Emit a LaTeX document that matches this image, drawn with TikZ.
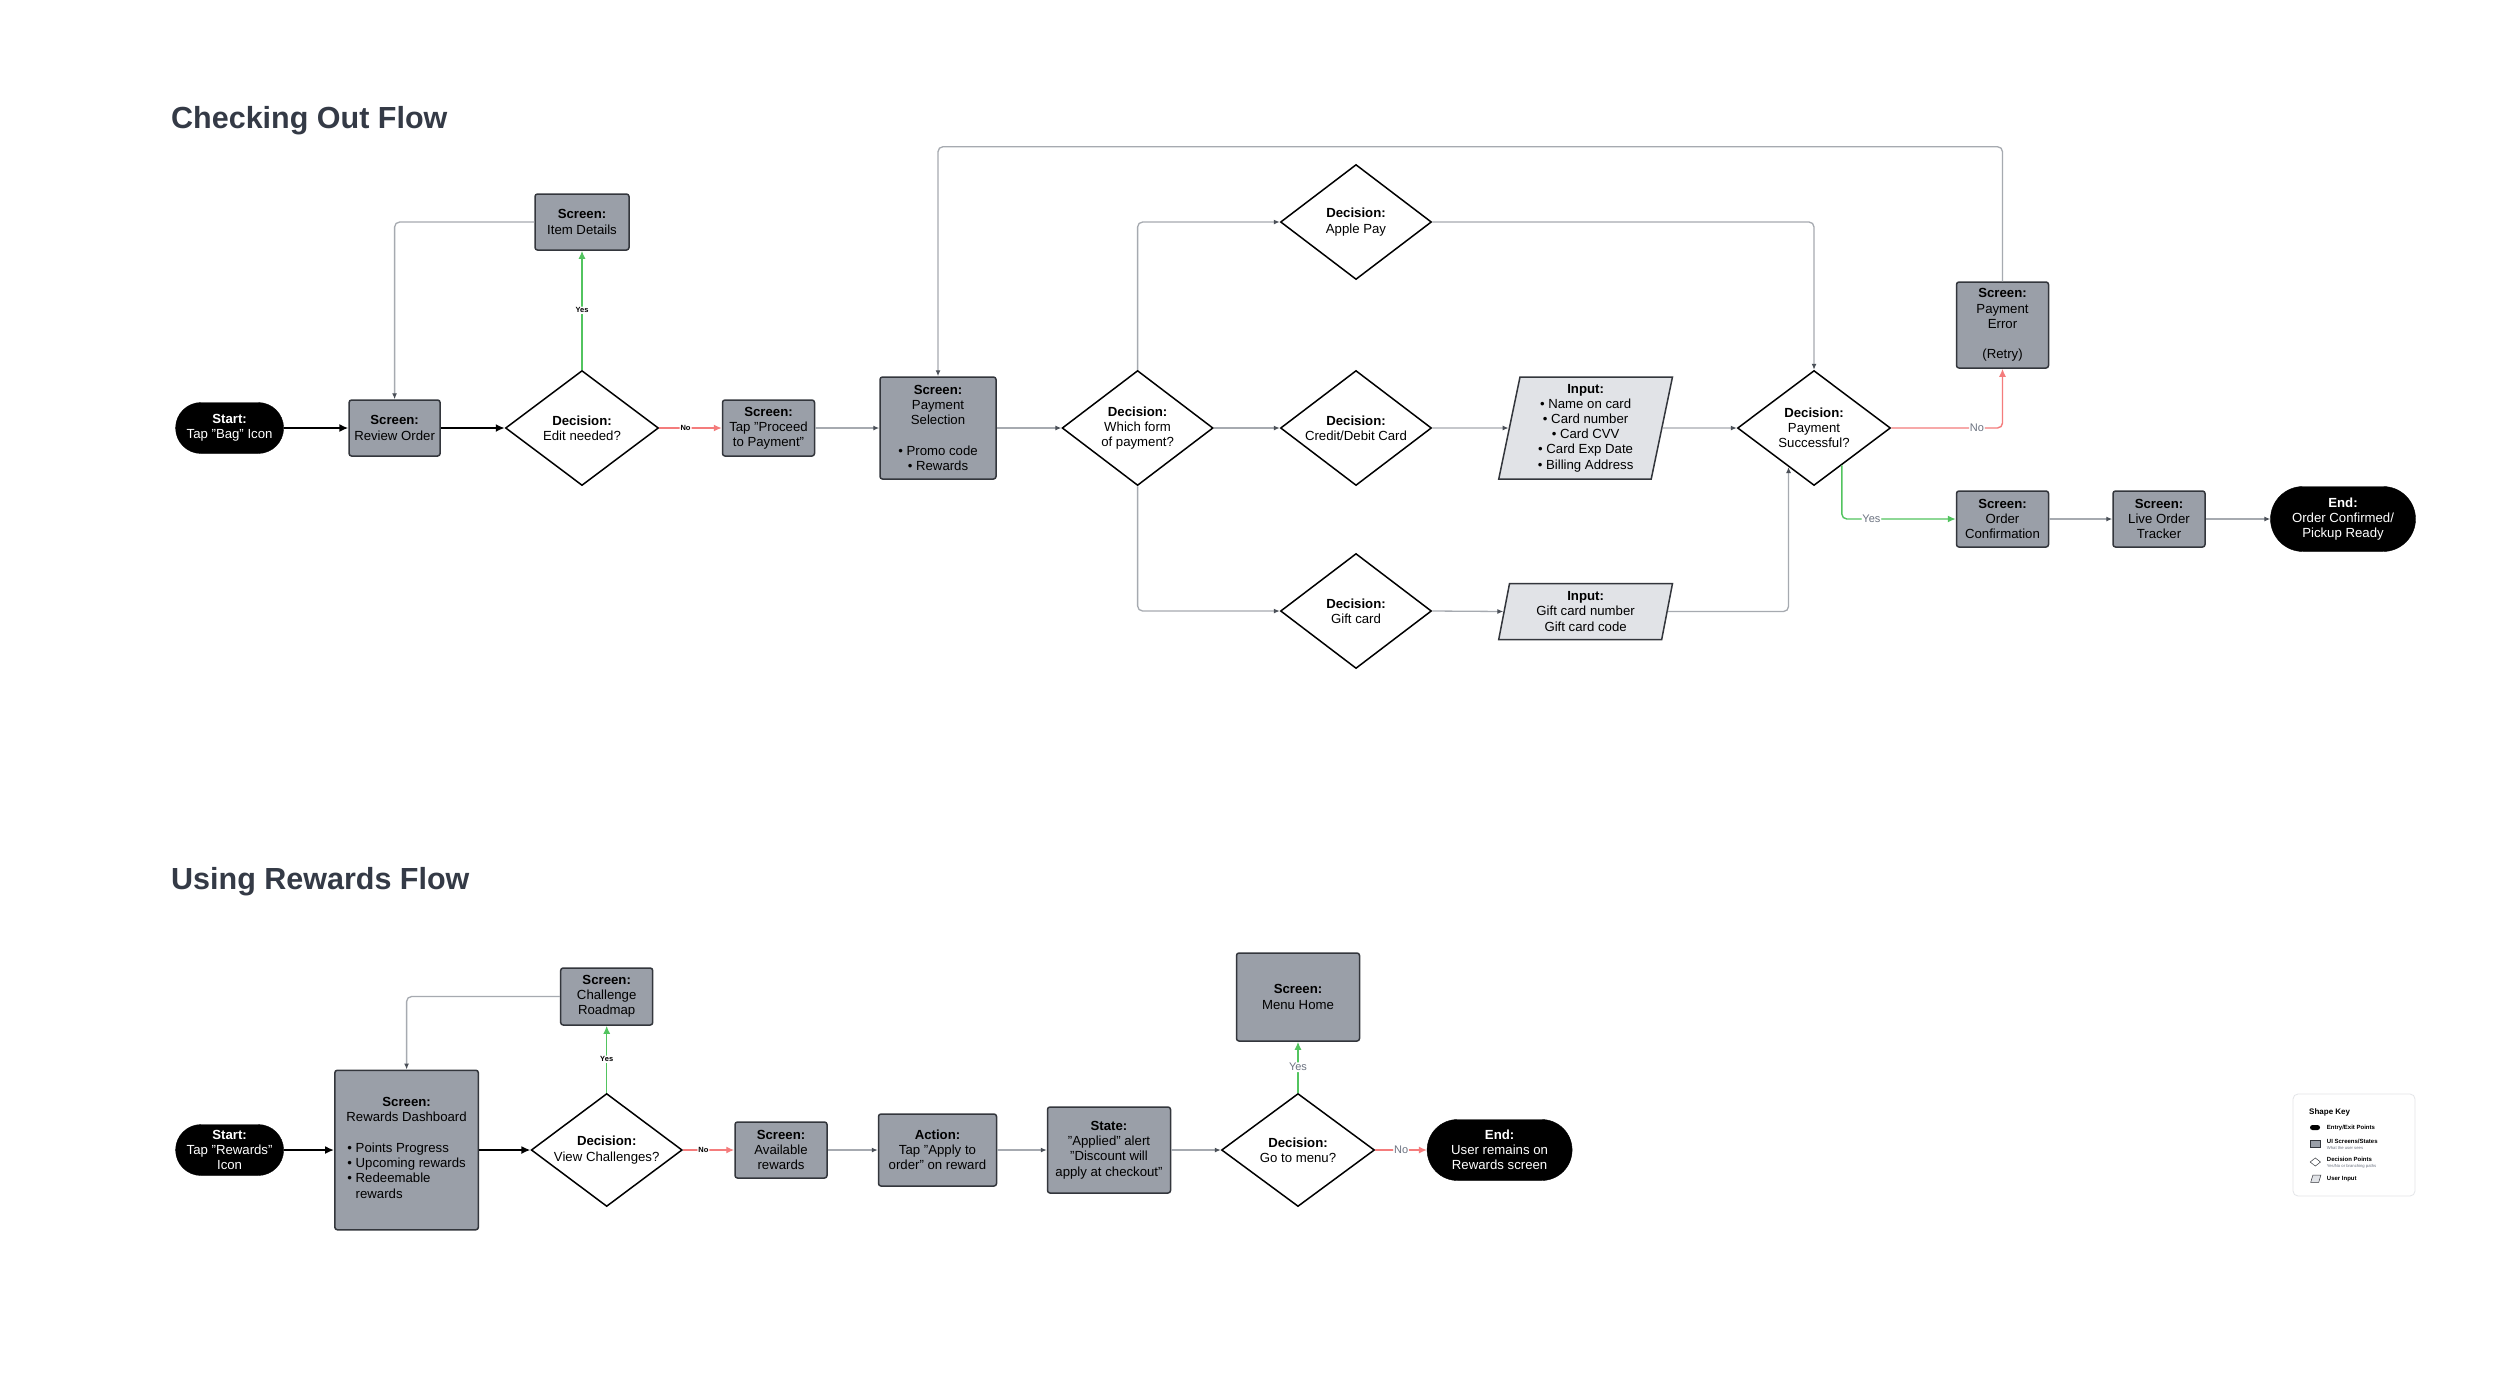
\documentclass[tikz,border=0pt]{standalone}
\usepackage{fontspec}
\setmainfont{Liberation Sans}
\usetikzlibrary{shapes.geometric,shapes.misc,arrows.meta,calc}
\definecolor{scr}{HTML}{9A9FA8}
\definecolor{scrborder}{HTML}{33363C}
\definecolor{inp}{HTML}{E1E3E7}
\definecolor{conn}{HTML}{A6AAB0}
\definecolor{ahead}{HTML}{4B5058}
\definecolor{yesg}{HTML}{52C45F}
\definecolor{nor}{HTML}{F47C7C}
\definecolor{titlec}{HTML}{343A46}
\definecolor{lblgray}{HTML}{6B7280}
\definecolor{keyborder}{HTML}{E3E5E8}
\begin{document}
\begin{tikzpicture}[x=1pt,y=-1pt,
  base/.style={font=\fontsize{13.2}{15.2}\selectfont, align=center, inner sep=0pt},
  screen/.style={base, rectangle, rounded corners=2.5pt, fill=scr, draw=scrborder, line width=1.5pt},
  decision/.style={base, diamond, aspect=1.33, fill=white, draw=black, line width=1.5pt},
  term/.style={base, rounded rectangle, fill=black, draw=black, text=white},
  inputbox/.style={base, trapezium, trapezium left angle=80, trapezium right angle=100, trapezium stretches=true, fill=inp, draw=scrborder, line width=1.5pt},
  blackarrow/.style={draw=black, line width=1.8pt, -{Latex[length=9pt,width=8pt]}},
  grayarrow/.style={draw=conn, line width=1.3pt, rounded corners=5pt, -{Latex[length=6pt,width=5pt,color=ahead]}},
  yesarrow/.style={draw=yesg, line width=1.4pt, rounded corners=5pt, -{Latex[length=8pt,width=7pt]}},
  noarrow/.style={draw=nor, line width=1.4pt, rounded corners=5pt, -{Latex[length=8pt,width=7pt]}},
  lblsmall/.style={font=\fontsize{7.5}{8}\selectfont\bfseries, fill=white, inner sep=1pt},
  lblg/.style={font=\fontsize{11}{12}\selectfont, text=lblgray, fill=white, inner sep=1pt},
  sectitle/.style={font=\fontsize{30.5}{34}\selectfont\bfseries, text=titlec, anchor=base west, inner sep=0pt},
  keylbl/.style={font=\fontsize{6}{7}\selectfont\bfseries, anchor=west, inner sep=0pt},
  keysub/.style={font=\fontsize{4.2}{5}\selectfont, text=lblgray, anchor=west, inner sep=0pt}
]
\fill[white] (0,0) rectangle (2500,1390);
\useasboundingbox (0,0) rectangle (2500,1390);

% ---------- Checking Out Flow ----------
\node[sectitle] (t1) at (171,128) {Checking Out Flow};

\node[term, minimum width=108, minimum height=51] (start1) at (229.6,428) {\textbf{Start:}\\Tap "Bag" Icon};
\node[screen, minimum width=91, minimum height=56] (review) at (394.6,428) {\textbf{Screen:}\\Review Order};
\node[decision, minimum width=153, minimum height=115] (edit) at (582,428) {\textbf{Decision:}\\Edit needed?};
\node[screen, minimum width=94, minimum height=56] (item) at (582,222) {\textbf{Screen:}\\Item Details};
\node[screen, minimum width=92, minimum height=56] (proceed) at (768.5,428) {\textbf{Screen:}\\Tap "Proceed\\to Payment"};
\node[screen, minimum width=116, minimum height=102] (paysel) at (938,428) {\textbf{Screen:}\\Payment\\Selection\\[15.2pt]• Promo code\\• Rewards};
\node[decision, minimum width=151, minimum height=115] (which) at (1137.6,428) {\textbf{Decision:}\\Which form\\of payment?};
\node[decision, minimum width=151, minimum height=115] (apple) at (1356,222) {\textbf{Decision:}\\Apple Pay};
\node[decision, minimum width=151, minimum height=115] (credit) at (1356,428) {\textbf{Decision:}\\Credit/Debit Card};
\node[decision, minimum width=151, minimum height=115] (gift) at (1356,611) {\textbf{Decision:}\\Gift card};
\node[inputbox, minimum width=174, minimum height=102] (incard) at (1585.6,428) {\textbf{Input:}\\• Name on card\\• Card number\\• Card CVV\\• Card Exp Date\\• Billing Address};
\node[inputbox, minimum width=174, minimum height=56] (ingift) at (1585.6,611.5) {\textbf{Input:}\\Gift card number\\Gift card code};
\node[decision, minimum width=153, minimum height=115] (ps) at (1814,428) {\textbf{Decision:}\\Payment\\Successful?};
\node[screen, minimum width=92, minimum height=86] (perr) at (2002.5,325) {\textbf{Screen:}\\Payment\\Error\\[15.2pt](Retry)};
\node[screen, minimum width=92, minimum height=56] (oconf) at (2002.5,519) {\textbf{Screen:}\\Order\\Confirmation};
\node[screen, minimum width=92, minimum height=56] (live) at (2159,519) {\textbf{Screen:}\\Live Order\\Tracker};
\node[term, minimum width=145, minimum height=65] (end1) at (2343,519) {\textbf{End:}\\Order Confirmed/\\Pickup Ready};

\coordinate (loopy) at (0,146.7);
\coordinate (gin) at ($(ps.south)!0.33!(ps.west)$);
\coordinate (yout) at ($(ps.south)!0.36!(ps.east)$);

\draw[blackarrow] (start1.east) -- (review.west);
\draw[blackarrow] (review.east) -- (edit.west);
\draw[yesarrow] (edit.north) -- node[lblsmall]{Yes} (item.south);
\draw[grayarrow] (item.west) -| (review.north);
\draw[noarrow] (edit.east) -- node[lblsmall, pos=0.42]{No} (proceed.west);
\draw[grayarrow] (proceed.east) -- (paysel.west);
\draw[grayarrow] (paysel.east) -- (which.west);
\draw[grayarrow] (which.north) |- (apple.west);
\draw[grayarrow] (which.east) -- (credit.west);
\draw[grayarrow] (which.south) |- (gift.west);
\draw[grayarrow] (apple.east) -| (ps.north);
\draw[grayarrow] (credit.east) -- (incard.west);
\draw[grayarrow] (gift.east) -- (ingift.west);
\draw[grayarrow] (incard.east) -- (ps.west);
\draw[grayarrow] (ingift.east) -| (gin);
\draw[noarrow] (ps.east) -| node[lblg, pos=0.385]{No} (perr.south);
\draw[yesarrow] (yout) |- node[lblg, pos=0.63]{Yes} (oconf.west);
\draw[grayarrow] (perr.north) -- (perr.north |- loopy) -- (paysel.north |- loopy) -- (paysel.north);
\draw[grayarrow] (oconf.east) -- (live.west);
\draw[grayarrow] (live.east) -- (end1.west);

% ---------- Using Rewards Flow ----------
\node[sectitle] (t2) at (171,889) {Using Rewards Flow};

\node[term, minimum width=108, minimum height=51] (start2) at (229.6,1150) {\textbf{Start:}\\Tap "Rewards"\\Icon};
\node[screen, minimum width=143.5, minimum height=159.5] (dash) at (406.6,1150) {\textbf{Screen:}\\Rewards Dashboard\\[19pt]\begin{tabular}{@{}l@{}}• Points Progress\\• Upcoming rewards\\• Redeemable\\\hphantom{• }rewards\end{tabular}};
\node[decision, minimum width=151, minimum height=113] (view) at (606.7,1150) {\textbf{Decision:}\\View Challenges?};
\node[screen, minimum width=92, minimum height=57] (cr) at (606.7,996.5) {\textbf{Screen:}\\Challenge\\Roadmap};
\node[screen, minimum width=92, minimum height=56] (avail) at (781,1150) {\textbf{Screen:}\\Available\\rewards};
\node[screen, minimum width=118, minimum height=72] (action) at (937.5,1150) {\textbf{Action:}\\Tap "Apply to\\order" on reward};
\node[screen, minimum width=123, minimum height=86] (state) at (1109,1150) {\textbf{State:}\\"Applied" alert\\"Discount will\\apply at checkout"};
\node[decision, minimum width=153, minimum height=113] (gomenu) at (1298,1150) {\textbf{Decision:}\\Go to menu?};
\node[screen, minimum width=123, minimum height=88] (menu) at (1298,997) {\textbf{Screen:}\\Menu Home};
\node[term, minimum width=145, minimum height=61] (end2) at (1499.6,1150) {\textbf{End:}\\User remains on\\Rewards screen};

\draw[blackarrow] (start2.east) -- (dash.west);
\draw[blackarrow] (dash.east) -- (view.west);
\draw[yesarrow] (view.north) -- node[lblsmall]{Yes} (cr.south);
\draw[grayarrow] (cr.west) -| (dash.north);
\draw[noarrow] (view.east) -- node[lblsmall, pos=0.4]{No} (avail.west);
\draw[grayarrow] (avail.east) -- (action.west);
\draw[grayarrow] (action.east) -- (state.west);
\draw[grayarrow] (state.east) -- (gomenu.west);
\draw[yesarrow] (gomenu.north) -- node[lblg]{Yes} (menu.south);
\draw[noarrow] (gomenu.east) -- node[lblg]{No} (end2.west);

% ---------- Shape Key ----------
\node[draw=keyborder, line width=0.8pt, fill=white, rounded corners=5pt, minimum width=122, minimum height=102, inner sep=0pt] (key) at (2354,1145) {};
\node[font=\fontsize{8}{9}\selectfont\bfseries, anchor=west, inner sep=0pt] (keyt) at (2309,1112) {Shape Key};
\node[rounded rectangle, fill=black, minimum width=10, minimum height=5, inner sep=0pt] (k1) at (2315,1127.5) {};
\node[keylbl] (k1l) at (2326.7,1127.5) {Entry/Exit Points};
\node[rectangle, fill=scr, draw=scrborder, line width=0.5pt, minimum width=10.5, minimum height=7.3, inner sep=0pt] (k2) at (2315.3,1143.7) {};
\node[keylbl] (k2l) at (2326.7,1141.7) {UI Screens/States};
\node[keysub] (k2s) at (2326.7,1148.3) {What the user sees};
\node[diamond, draw=scrborder, fill=white, line width=0.5pt, minimum width=10.5, minimum height=8.3, inner sep=0pt] (k3) at (2315.3,1162) {};
\node[keylbl] (k3l) at (2326.7,1159.7) {Decision Points};
\node[keysub] (k3s) at (2326.7,1166.3) {Yes/No or branching paths};
\draw[fill=inp, draw=scrborder, line width=0.5pt] (2310.7,1182.3) -- (2312.9,1175) -- (2320.9,1175) -- (2318.7,1182.3) -- cycle;
\node[keylbl] (k4l) at (2326.7,1178.7) {User Input};
\end{tikzpicture}
\end{document}
